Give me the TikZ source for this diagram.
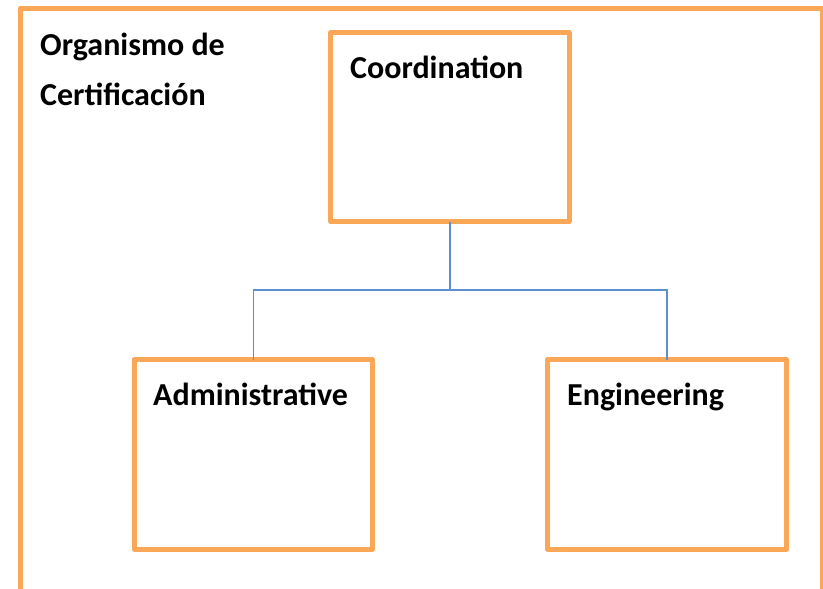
\documentclass[tikz,border=0pt]{standalone}
\usepackage{fontspec}
\setmainfont{Carlito}
\definecolor{frameorange}{RGB}{250,167,88}
\definecolor{connblue}{RGB}{91,143,208}
\tikzset{
  unitbox/.style={draw=frameorange, line width=5pt, line join=round, fill=white, inner sep=0pt, rectangle},
  conn/.style={draw=connblue, line width=1.5pt},
  lbl/.style={anchor=base west, inner sep=0pt, font=\fontsize{32}{38}\selectfont\bfseries}
}
\begin{document}
\begin{tikzpicture}[x=1pt,y=-1pt]
\useasboundingbox (0,0) rectangle (823,589);
\clip (0,0) rectangle (823,589);
\fill[white] (0,0) rectangle (823,589);
% outer frame
\draw[frameorange, line width=5pt, line join=round] (20.5,650) -- (20.5,8) -- (822,8) -- (822,650);
\node[lbl] (org1) at (40,55) {Organismo de};
\node[lbl] (org2) at (40,105) {Certificación};
% boxes
\node[unitbox, minimum width=238.5pt, minimum height=189pt] (coord) at (449.75,127) {};
\node[unitbox, minimum width=238.5pt, minimum height=189.5pt] (admin) at (253.25,454.25) {};
\node[unitbox, minimum width=239pt, minimum height=189.5pt] (eng) at (667,454.25) {};
\node[lbl] (tcoord) at (350,78) {Coordination};
\node[lbl] (tadmin) at (153,405) {Administrative};
\node[lbl] (teng) at (567,405) {Engineering};
% connectors
\coordinate (j) at (449.75,290);
\draw[conn] ([yshift=2.5pt]coord.south) -- (j);
\draw[conn] ([yshift=-2.5pt]admin.north) |- (j) -| ([yshift=-2.5pt]eng.north);
\end{tikzpicture}
\end{document}
